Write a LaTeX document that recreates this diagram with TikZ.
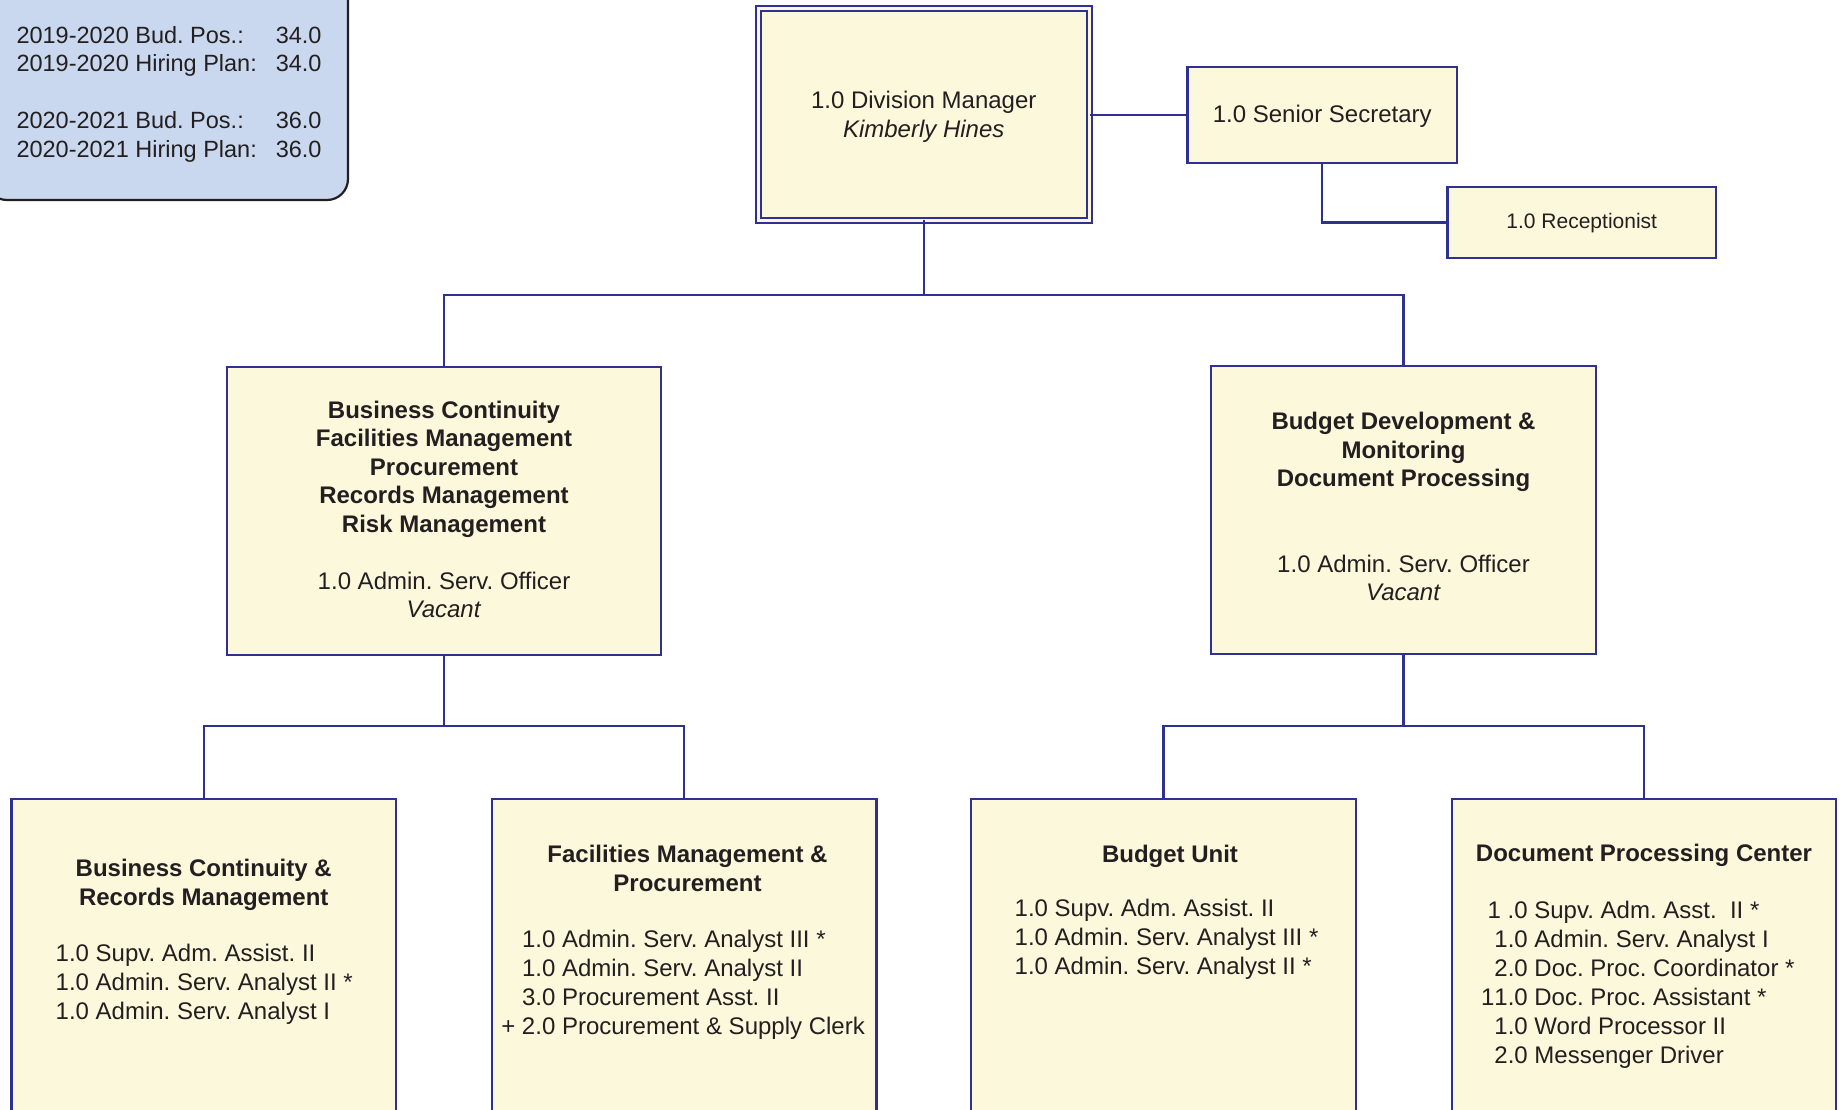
\documentclass[tikz,border=0pt]{standalone}
\usepackage{fontspec}
\setmainfont{Liberation Sans}
\frenchspacing
\definecolor{navy}{HTML}{2E3192}
\definecolor{cream}{HTML}{FCF8DC}
\definecolor{legendblue}{HTML}{C9D8EE}
\definecolor{ink}{HTML}{231F20}

\tikzset{
  unit/.style={rectangle, draw=navy, line width=2.2pt, fill=cream,
    inner sep=0pt, outer sep=0pt},
  headunit/.style={unit, line width=2pt, double=cream, double distance=3pt},
  link/.style={draw=navy, line width=2.2pt},
  legendbox/.style={rectangle, draw=ink, line width=2.2pt, fill=legendblue,
    rounded corners=21pt, inner sep=0pt, outer sep=0pt},
  txt/.style={inner sep=0pt, outer sep=0pt, text=ink, anchor=base,
    font=\fontsize{24}{28.5}\selectfont},
  legendtxt/.style={txt, font=\fontsize{23.5}{28.5}\selectfont},
  listtxt/.style={txt, font=\fontsize{24}{29}\selectfont},
  smalltxt/.style={txt, font=\fontsize{21}{25}\selectfont},
}

\begin{document}
\begin{tikzpicture}[x=1pt,y=-1pt]
\useasboundingbox (0,0) rectangle (1845,1109);
\clip (0,0) rectangle (1845,1109);

% position summary
\node[legendbox, minimum width=362pt, minimum height=230pt] (legend) at (167,85) {};
\node[legendtxt, anchor=base west] (lab1) at (16.5,43) {2019-2020 Bud. Pos.:};
\node[legendtxt, anchor=base east] (val1) at (321.5,43) {34.0};
\node[legendtxt, anchor=base west] (lab2) at (16.5,71.5) {2019-2020 Hiring Plan:};
\node[legendtxt, anchor=base east] (val2) at (321.5,71.5) {34.0};
\node[legendtxt, anchor=base west] (lab3) at (16.5,128.5) {2020-2021 Bud. Pos.:};
\node[legendtxt, anchor=base east] (val3) at (321.5,128.5) {36.0};
\node[legendtxt, anchor=base west] (lab4) at (16.5,157) {2020-2021 Hiring Plan:};
\node[legendtxt, anchor=base east] (val4) at (321.5,157) {36.0};

% top level
\node[headunit, minimum width=331.5pt, minimum height=211.5pt] (dm) at (923.75,114.25) {};
\node[unit, minimum width=269.5pt, minimum height=96pt] (ss) at (1322.25,115) {};
\node[unit, minimum width=268.5pt, minimum height=71pt] (rec) at (1581.75,222.5) {};

% second level
\node[unit, minimum width=434pt, minimum height=288pt] (ml) at (444,511) {};
\node[unit, minimum width=385pt, minimum height=288pt] (mr) at (1403.5,510) {};

% units
\node[unit, minimum width=384.5pt, minimum height=341pt] (b1) at (203.75,969.5) {};
\node[unit, minimum width=384.5pt, minimum height=341pt] (b2) at (684.25,969.5) {};
\node[unit, minimum width=385pt, minimum height=341pt] (b3) at (1163.5,969.5) {};
\node[unit, minimum width=384pt, minimum height=341pt] (b4) at (1644,969.5) {};

% connectors
\coordinate (busa) at (0,295);
\coordinate (busb) at (0,726);
\draw[link] (dm.east |- ss.west) -- (ss.west);
\draw[link] (ss.south) |- (rec.west);
\draw[link] (dm.south) -- (dm.south |- busa) -| (ml.north);
\draw[link] (dm.south |- busa) -| (mr.north);
\draw[link] (ml.south) -- (ml.south |- busb) -| (b1.north);
\draw[link] (ml.south |- busb) -| (b2.north);
\draw[link] (mr.south) -- (mr.south |- busb) -| (b3.north);
\draw[link] (mr.south |- busb) -| (b4.north);

% texts
\node[txt] (dmtxt) at (923.75,108.5) {\begin{tabular}[t]{@{}c@{}}1.0 Division Manager\\ \textit{Kimberly Hines}\end{tabular}};
\node[txt] (sstxt) at (1322.25,122.5) {1.0 Senior Secretary};
\node[smalltxt] (rectxt) at (1581.75,228) {1.0 Receptionist};

\node[txt] (mltxt) at (444,418) {\begin{tabular}[t]{@{}c@{}}\textbf{Business Continuity}\\ \textbf{Facilities Management}\\ \textbf{Procurement}\\ \textbf{Records Management}\\ \textbf{Risk Management}\\ \\ 1.0 Admin. Serv. Officer\\ \textit{Vacant}\end{tabular}};
\node[txt] (mrtxt) at (1403.5,429.5) {\begin{tabular}[t]{@{}c@{}}\textbf{Budget Development \&}\\ \textbf{Monitoring}\\ \textbf{Document Processing}\\ \\ \\ 1.0 Admin. Serv. Officer\\ \textit{Vacant}\end{tabular}};

\node[listtxt] (b1head) at (203.75,876.5) {\begin{tabular}[t]{@{}c@{}}\textbf{Business Continuity \&}\\ \textbf{Records Management}\end{tabular}};
\node[listtxt, anchor=base west] (b1list) at (55.7,961) {\begin{tabular}[t]{@{}l@{}}1.0 Supv. Adm. Assist. II\\ 1.0 Admin. Serv. Analyst II *\\ 1.0 Admin. Serv. Analyst I\end{tabular}};

\node[listtxt] (b2head) at (687.5,862.5) {\begin{tabular}[t]{@{}c@{}}\textbf{Facilities Management \&}\\ \textbf{Procurement}\end{tabular}};
\node[listtxt, anchor=base west] (b2list) at (522,947) {\begin{tabular}[t]{@{}l@{}}1.0 Admin. Serv. Analyst III *\\ 1.0 Admin. Serv. Analyst II\\ 3.0 Procurement Asst. II\\ \llap{+\ }2.0 Procurement \& Supply Clerk\end{tabular}};

\node[listtxt] (b3head) at (1170,862.5) {\textbf{Budget Unit}};
\node[listtxt, anchor=base west] (b3list) at (1014.7,916.5) {\begin{tabular}[t]{@{}l@{}}1.0 Supv. Adm. Assist. II\\ 1.0 Admin. Serv. Analyst III *\\ 1.0 Admin. Serv. Analyst II *\end{tabular}};

\node[listtxt] (b4head) at (1644,861.5) {\textbf{Document Processing Center}};
\node[listtxt, anchor=base west] (b4list) at (1494.4,918.5) {\begin{tabular}[t]{@{}l@{}}\hspace*{-6.7pt}1 .0 Supv. Adm. Asst.\ \ II *\\ 1.0 Admin. Serv. Analyst I\\ 2.0 Doc. Proc. Coordinator *\\ \llap{1}1.0 Doc. Proc. Assistant *\\ 1.0 Word Processor II\\ 2.0 Messenger Driver\end{tabular}};
\end{tikzpicture}
\end{document}
